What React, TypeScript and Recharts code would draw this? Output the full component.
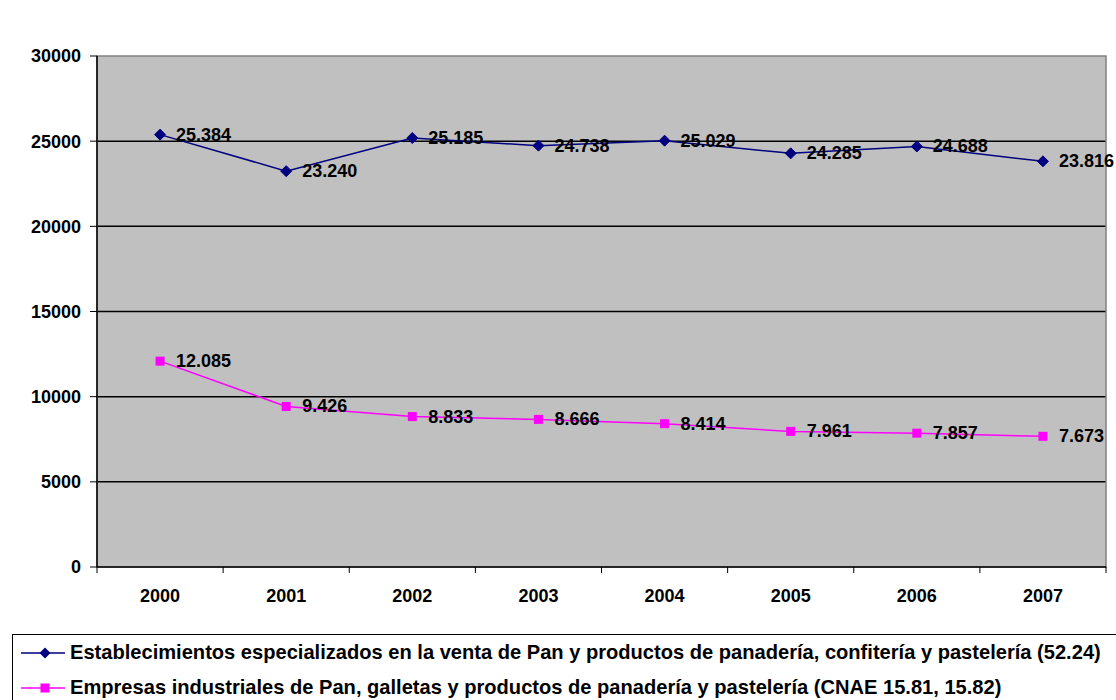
import React from 'react';
import {
  LineChart,
  Line,
  XAxis,
  YAxis,
  CartesianGrid,
  ReferenceArea,
  LabelList,
} from 'recharts';

// Años del período
const years = ['2000', '2001', '2002', '2003', '2004', '2005', '2006', '2007'];

// Establecimientos especializados (52.24)
const establecimientos = [25384, 23240, 25185, 24738, 25029, 24285, 24688, 23816];

// Empresas industriales (CNAE 15.81, 15.82)
const empresas = [12085, 9426, 8833, 8666, 8414, 7961, 7857, 7673];

const yTicks = [0, 5000, 10000, 15000, 20000, 25000, 30000];
const gridValues = [5000, 10000, 15000, 20000, 25000];

const seriesNames = [
  'Establecimientos especializados en la venta de Pan y productos de panadería, confitería y pastelería (52.24)',
  'Empresas industriales de Pan, galletas y productos de panadería y pastelería (CNAE 15.81, 15.82)',
];

const data = years.map((year, i) => ({
  year,
  establecimientos: establecimientos[i],
  empresas: empresas[i],
}));

const FONT = '"Liberation Sans", Arial, sans-serif';
const NAVY = '#000080';
const MAGENTA = '#FF00FF';

const fmt = (v: number) => String(v).replace(/\B(?=(\d{3})+(?!\d))/g, '.');

const Diamond = (props: any) => {
  const { cx, cy } = props;
  if (cx == null || cy == null) return null;
  const r = 5.5;
  return (
    <polygon
      points={`${cx},${cy - r} ${cx + r},${cy} ${cx},${cy + r} ${cx - r},${cy}`}
      fill={NAVY}
      stroke={NAVY}
    />
  );
};

const Square = (props: any) => {
  const { cx, cy } = props;
  if (cx == null || cy == null) return null;
  const s = 9;
  return <rect x={cx - s / 2} y={cy - s / 2} width={s} height={s} fill={MAGENTA} />;
};

const ValueLabel = (props: any) => {
  const { x, y, value } = props;
  return (
    <text
      x={x + 16}
      y={y}
      dominantBaseline="central"
      fontFamily={FONT}
      fontWeight="bold"
      fontSize={18}
      fill="#000"
    >
      {fmt(value)}
    </text>
  );
};

const XTick = (props: any) => {
  const { x, payload, index } = props;
  const bw = 1009 / years.length;
  const left = x - bw / 2;
  return (
    <g>
      <line x1={left} y1={567} x2={left} y2={573} stroke="#000" strokeWidth={1} />
      {index === years.length - 1 && (
        <line x1={x + bw / 2} y1={567} x2={x + bw / 2} y2={573} stroke="#000" strokeWidth={1} />
      )}
      <text
        x={x}
        y={596}
        textAnchor="middle"
        dominantBaseline="central"
        fontFamily={FONT}
        fontWeight="bold"
        fontSize={18}
        fill="#000"
      >
        {payload.value}
      </text>
    </g>
  );
};

const LegendIcon = ({ color, shape }: { color: string; shape: 'diamond' | 'square' }) => (
  <svg width={50} height={20} style={{ display: 'block' }}>
    <line x1={6} y1={10} x2={52} y2={10} stroke={color} strokeWidth={1.5} />
    {shape === 'diamond' ? (
      <polygon points="30,4.5 35.5,10 30,15.5 24.5,10" fill={color} />
    ) : (
      <rect x={25.5} y={5.5} width={9} height={9} fill={color} />
    )}
  </svg>
);

export default function App() {
  return (
    <div style={{ position: 'absolute', left: 0, top: 0, width: 1116, height: 700, background: '#fff', overflow: 'hidden' }}>
      <LineChart
        width={1116}
        height={634}
        data={data}
        margin={{ top: 56, right: 10, bottom: 27, left: 0 }}
      >
        <CartesianGrid
          vertical={false}
          horizontal
          horizontalValues={gridValues}
          stroke="#000"
          strokeWidth={1.5}
          fill="#C0C0C0"
          fillOpacity={1}
        />
        <ReferenceArea y1={0} y2={30000} fill="none" stroke="#808080" strokeWidth={1.5} ifOverflow="visible" />
        <XAxis
          dataKey="year"
          scale="band"
          tickLine={false}
          axisLine={{ stroke: '#000', strokeWidth: 1.5 }}
          height={40}
          tick={<XTick />}
          interval={0}
        />
        <YAxis
          domain={[0, 30000]}
          ticks={yTicks}
          width={97}
          tickSize={7}
          tickMargin={9}
          tickLine={{ stroke: '#000', strokeWidth: 1 }}
          axisLine={{ stroke: '#000', strokeWidth: 1.5 }}
          tick={{ fontFamily: FONT, fontWeight: 'bold', fontSize: 18, fill: '#000' }}
          interval={0}
        />
        <Line
          dataKey="establecimientos"
          stroke={NAVY}
          strokeWidth={1.5}
          dot={<Diamond />}
          activeDot={false}
          isAnimationActive={false}
        >
          <LabelList dataKey="establecimientos" content={<ValueLabel />} />
        </Line>
        <Line
          dataKey="empresas"
          stroke={MAGENTA}
          strokeWidth={1.5}
          dot={<Square />}
          activeDot={false}
          isAnimationActive={false}
        >
          <LabelList dataKey="empresas" content={<ValueLabel />} />
        </Line>
      </LineChart>
      <div
        style={{
          position: 'absolute',
          left: 12,
          top: 634,
          width: 1120,
          height: 80,
          border: '1.5px solid #000',
          boxSizing: 'border-box',
          fontFamily: FONT,
          fontWeight: 'bold',
          fontSize: 20.1,
          color: '#000',
        }}
      >
        <div style={{ position: 'absolute', left: 2, top: 6, display: 'flex', alignItems: 'center', whiteSpace: 'nowrap' }}>
          <LegendIcon color={NAVY} shape="diamond" />
          <span style={{ marginLeft: 5 }}>{seriesNames[0]}</span>
        </div>
        <div style={{ position: 'absolute', left: 2, top: 41, display: 'flex', alignItems: 'center', whiteSpace: 'nowrap' }}>
          <LegendIcon color={MAGENTA} shape="square" />
          <span style={{ marginLeft: 5 }}>{seriesNames[1]}</span>
        </div>
      </div>
    </div>
  );
}
